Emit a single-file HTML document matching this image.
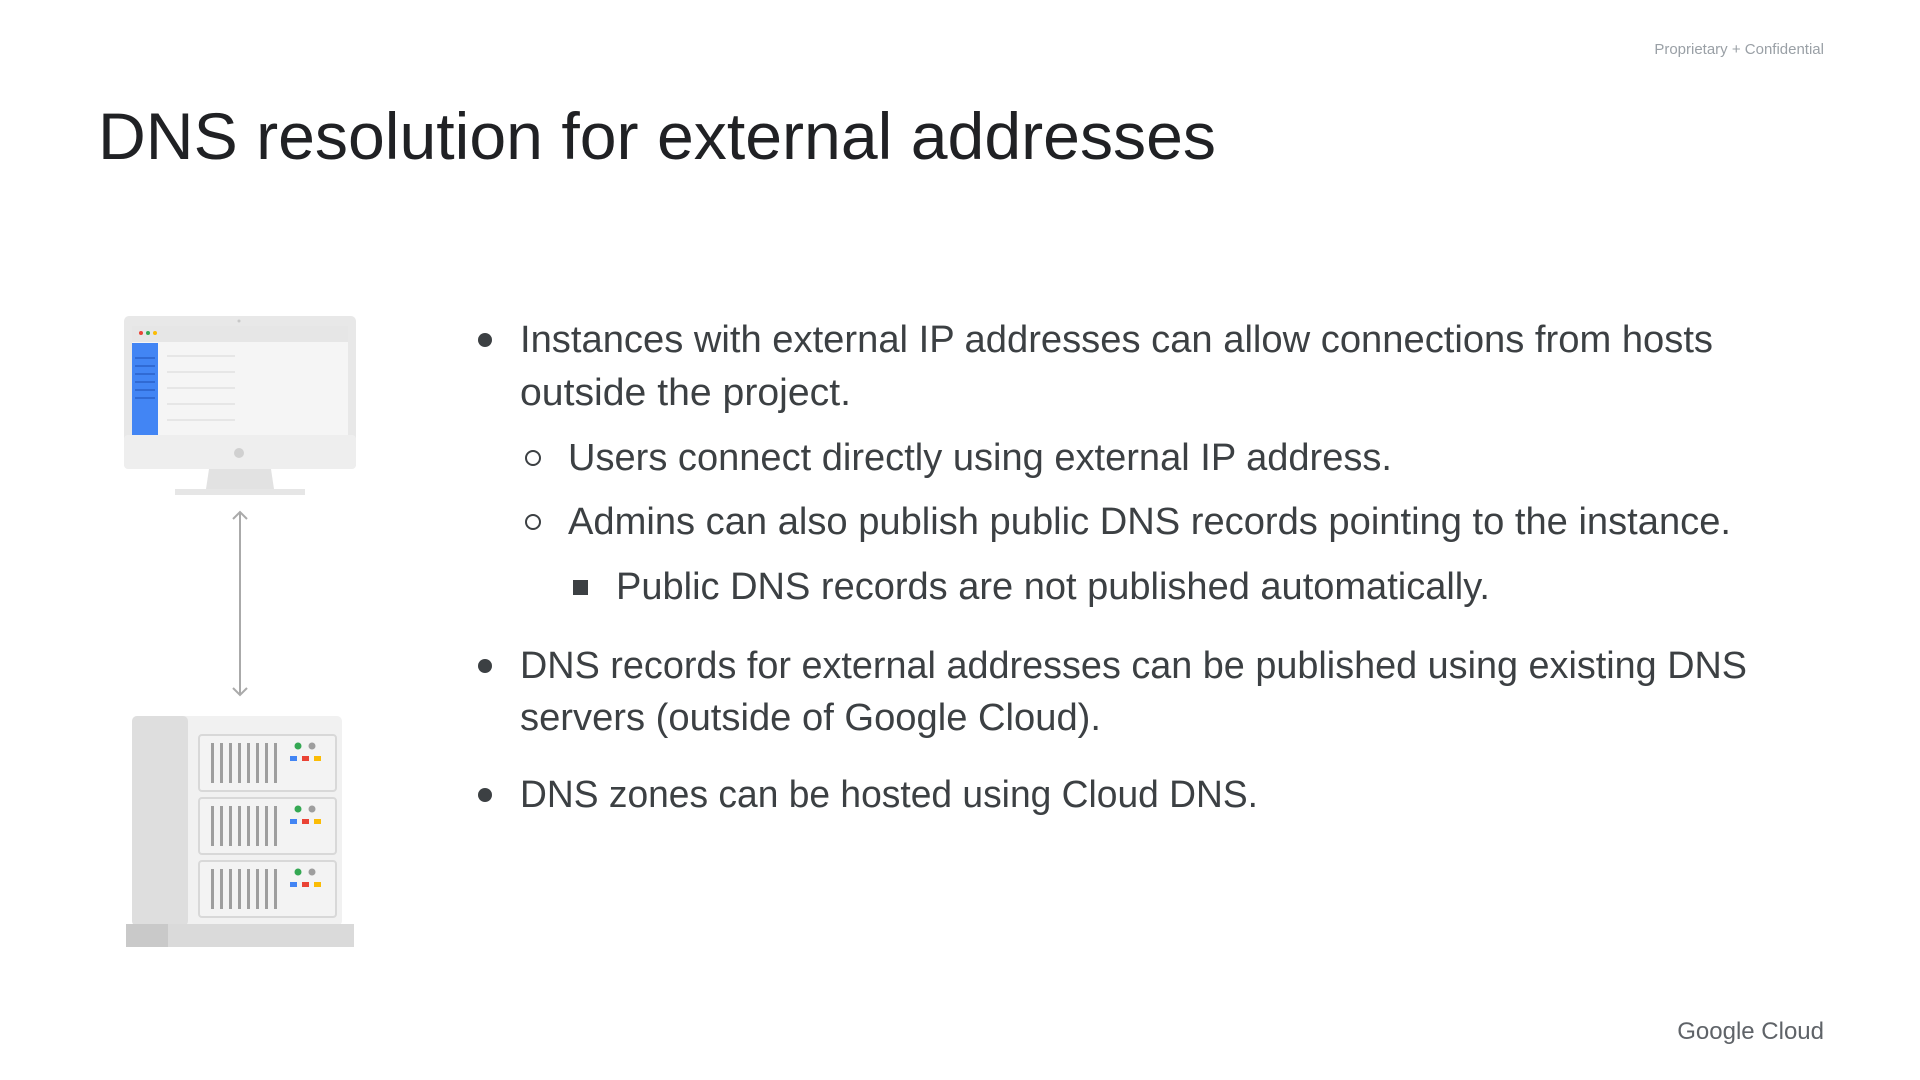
<!DOCTYPE html>
<html><head><meta charset="utf-8"><style>
html,body{margin:0;padding:0;background:#fff;}
svg{display:block;}
text{font-family:"Liberation Sans",sans-serif;}
</style></head><body>
<svg width="1920" height="1080" viewBox="0 0 1920 1080" xmlns="http://www.w3.org/2000/svg">
<rect width="1920" height="1080" fill="#fff"/>
<text x="1824" y="54" font-size="15" fill="#9aa0a6" text-anchor="end">Proprietary + Confidential</text>
<text x="98" y="159" font-size="66" fill="#202124" textLength="1118" lengthAdjust="spacingAndGlyphs">DNS resolution for external addresses</text>

<g fill="#3c4043" font-size="38">
<circle cx="485" cy="340" r="7"/>
<text x="520" y="352" textLength="1193" lengthAdjust="spacingAndGlyphs">Instances with external IP addresses can allow connections from hosts</text>
<text x="520" y="405" textLength="331" lengthAdjust="spacingAndGlyphs">outside the project.</text>
<circle cx="533" cy="458" r="7" fill="none" stroke="#3c4043" stroke-width="2"/>
<text x="568" y="470" textLength="824" lengthAdjust="spacingAndGlyphs">Users connect directly using external IP address.</text>
<circle cx="533" cy="522" r="7" fill="none" stroke="#3c4043" stroke-width="2"/>
<text x="568" y="534" textLength="1163" lengthAdjust="spacingAndGlyphs">Admins can also publish public DNS records pointing to the instance.</text>
<rect x="573" y="580" width="15" height="15"/>
<text x="616" y="599" textLength="874" lengthAdjust="spacingAndGlyphs">Public DNS records are not published automatically.</text>
<circle cx="485" cy="666" r="7"/>
<text x="520" y="678" textLength="1227" lengthAdjust="spacingAndGlyphs">DNS records for external addresses can be published using existing DNS</text>
<text x="520" y="730" textLength="581" lengthAdjust="spacingAndGlyphs">servers (outside of Google Cloud).</text>
<circle cx="485" cy="795" r="7"/>
<text x="520" y="807" textLength="738" lengthAdjust="spacingAndGlyphs">DNS zones can be hosted using Cloud DNS.</text>
</g>

<text x="1824" y="1039" font-size="24" fill="#5f6368" text-anchor="end">Google Cloud</text>

<!-- monitor -->
<rect x="124" y="316" width="232" height="153" rx="5" fill="#e8e8e8"/>
<rect x="124" y="435" width="232" height="34" rx="4" fill="#eeeeee"/>
<rect x="132" y="326" width="216" height="109" fill="#f5f5f5"/>
<rect x="132" y="326" width="216" height="16" fill="#e6e6e6"/>
<rect x="132" y="343" width="26" height="92" fill="#4285f4"/>
<g stroke="#2a62c9" stroke-width="1.5"><line x1="135" y1="358" x2="155" y2="358"/><line x1="135" y1="366" x2="155" y2="366"/><line x1="135" y1="374" x2="155" y2="374"/><line x1="135" y1="382" x2="155" y2="382"/><line x1="135" y1="390" x2="155" y2="390"/><line x1="135" y1="398" x2="155" y2="398"/></g>
<circle cx="141" cy="333" r="2" fill="#ea4335"/><circle cx="148" cy="333" r="2" fill="#34a853"/><circle cx="155" cy="333" r="2" fill="#fbbc05"/>
<g stroke="#e2e2e2" stroke-width="1.5"><line x1="167" y1="356" x2="235" y2="356"/><line x1="167" y1="372" x2="235" y2="372"/><line x1="167" y1="388" x2="235" y2="388"/><line x1="167" y1="404" x2="235" y2="404"/><line x1="167" y1="420" x2="235" y2="420"/></g>
<circle cx="239" cy="453" r="5" fill="#d0d0d0"/>
<circle cx="239" cy="321" r="1.5" fill="#c8c8c8"/>
<polygon points="209,469 271,469 274,489 206,489" fill="#e2e2e2"/>
<rect x="175" y="489" width="130" height="6" fill="#e6e6e6"/>

<!-- arrow -->
<g stroke="#aaaaaa" stroke-width="2" fill="none">
<line x1="240" y1="512" x2="240" y2="695"/>
<polyline points="233,519 240,512 247,519"/>
<polyline points="233,688 240,695 247,688"/>
</g>

<!-- server -->
<rect x="132" y="716" width="210" height="210" rx="5" fill="#f1f1f1"/>
<rect x="132" y="716" width="56" height="210" rx="5" fill="#dedede"/>
<rect x="126" y="924" width="228" height="23" fill="#dadada"/>
<rect x="126" y="924" width="42" height="23" fill="#c9c9c9"/>
<g id="u">
<rect x="199" y="735" width="137" height="56" rx="3" fill="#f3f3f3" stroke="#d8d8d8" stroke-width="2"/>
<g fill="#9e9e9e">
<rect x="211" y="743" width="3" height="40"/><rect x="220" y="743" width="3" height="40"/><rect x="229" y="743" width="3" height="40"/><rect x="238" y="743" width="3" height="40"/><rect x="247" y="743" width="3" height="40"/><rect x="256" y="743" width="3" height="40"/><rect x="265" y="743" width="3" height="40"/><rect x="274" y="743" width="3" height="40"/>
</g>
<circle cx="298" cy="746" r="3.5" fill="#34a853"/><circle cx="312" cy="746" r="3.5" fill="#9e9e9e"/>
<rect x="290" y="756" width="7" height="5" fill="#4285f4"/><rect x="302" y="756" width="7" height="5" fill="#ea4335"/><rect x="314" y="756" width="7" height="5" fill="#fbbc05"/>
</g>
<use href="#u" y="63"/>
<use href="#u" y="126"/>
</svg>
</body></html>
